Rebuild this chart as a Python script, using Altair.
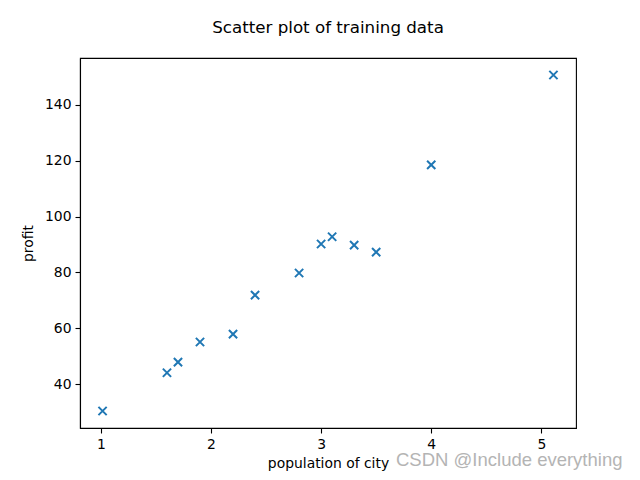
import altair as alt
import pandas as pd

population = [1.015, 1.6, 1.7, 1.9, 2.2, 2.4, 2.8, 3.0, 3.1, 3.3, 3.5, 4.0, 5.11]
profit = [30.4, 44.1, 47.9, 55.1, 57.9, 71.9, 79.8, 90.2, 92.8, 89.8, 87.3, 118.5, 150.7]
x_ticks = [1, 2, 3, 4, 5]
y_ticks = [40, 60, 80, 100, 120, 140]
title_text = "Scatter plot of training data"
x_label = "population of city"
y_label = "profit"
watermark = ["CSDN @Include everything"]

df = pd.DataFrame({"population": population, "profit": profit})

FONT = "DejaVu Sans"

points = alt.Chart(df).mark_point(
    shape="M-1,-1L1,1M-1,1L1,-1",
    filled=False,
    color="#1f77b4",
    strokeWidth=2,
    size=68,
    opacity=1,
).encode(
    x=alt.X("population:Q",
            scale=alt.Scale(domain=[0.81, 5.315], nice=False, zero=False),
            axis=alt.Axis(values=x_ticks, title=x_label, grid=False,
                          tickSize=5, labelPadding=4, titlePadding=6,
                          format="d")),
    y=alt.Y("profit:Q",
            scale=alt.Scale(domain=[24.3, 156.8], nice=False, zero=False),
            axis=alt.Axis(values=y_ticks, title=y_label, grid=False,
                          tickSize=5, labelPadding=4, titlePadding=9,
                          format="d")),
)

wm = alt.Chart(pd.DataFrame({"t": watermark})).mark_text(
    font="Liberation Sans", fontSize=18.5, color="#b4b4b4",
    align="left", baseline="alphabetic",
).encode(
    text="t:N",
    x=alt.value(316),
    y=alt.value(408),
)

chart = alt.layer(points, wm).properties(
    width=496,
    height=370,
    autosize=alt.AutoSizeParams(type="none"),
    padding={"left": 80, "top": 58, "right": 64, "bottom": 52},
    background="white",
    title=alt.TitleParams(title_text, font=FONT, fontSize=16.7,
                          fontWeight="normal", anchor="middle",
                          baseline="alphabetic", offset=8, color="black"),
).configure_view(
    stroke="black", strokeWidth=1.1
).configure_axis(
    labelFont=FONT, titleFont=FONT, labelFontSize=13.9, titleFontSize=13.9,
    titleFontWeight="normal", labelColor="black", titleColor="black",
    domainColor="black", tickColor="black", domainWidth=1.1, tickWidth=1.1,
    labelFlush=False,
)

chart.save("out.html", embed_options={"renderer": "svg", "actions": False})
